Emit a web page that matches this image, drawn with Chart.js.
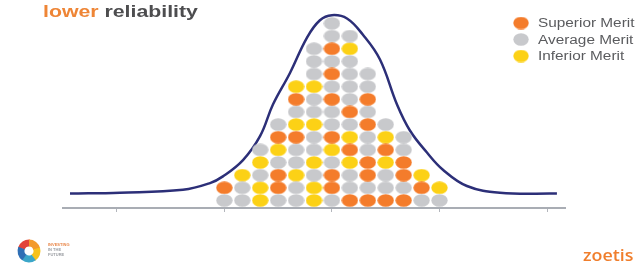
<!DOCTYPE html>
<html>
<head>
<meta charset="utf-8">
<script src="https://cdn.jsdelivr.net/npm/chart.js@4.4.1/dist/chart.umd.min.js"></script>
<style>
  body { margin: 0; background: #fff; }
  canvas { display: block; }
</style>
</head>
<body>
<canvas id="merit" width="642" height="267"></canvas>
<script>
// each column of dots, read from the bottom up
// O = superior, G = average, Y = inferior
const columns = [
  'GO',
  'GGY',
  'YYGYG',
  'GOOGYOG',
  'GGYGGOYGOY',
  'YYGYGGYGGYGGG',
  'GOOGYOGGOGOGOGG',
  'OGGYOYGOGGGGYG',
  'OGOOGGOGOGG',
  'OGGYOYG',
  'OGOOGG',
  'GOY',
  'GY'
];

const meritCodes = ['O', 'G', 'Y'];
const meritLabels = ['Superior Merit', 'Average Merit', 'Inferior Merit'];
const meritColors = ['#f47c2b', '#c8c9cc', '#fcd116'];

// bell curve (x in columns, y in rows)
const curveX = [-8.61, -5.82, -2.31, -0.8, -0.08, 1.04, 1.99, 2.71, 3.66, 4.61, 5.33, 6.0,
  6.84, 7.73, 8.68, 9.63, 10.35, 11.3, 12.19, 13.53, 15.37, 18.55];
const curveY = [0.54, 0.61, 0.84, 1.37, 1.9, 3.19, 5.08, 7.58, 10.08, 12.88, 14.25, 14.65,
  14.39, 13.1, 11.14, 7.58, 5.53, 3.79, 2.43, 1.14, 0.61, 0.54];

const axisTicks = [-6, 0, 6, 12, 18];

function meritPoints(code) {
  const pts = [];
  columns.forEach((col, i) => {
    [...col].forEach((c, level) => {
      if (c === code) pts.push({ x: i, y: level });
    });
  });
  return pts;
}

// slide was stretched sideways, so the dots are ellipses
function dot(color) {
  const c = document.createElement('canvas');
  c.width = 17;
  c.height = 13;
  const g = c.getContext('2d');
  g.fillStyle = color;
  g.beginPath();
  g.ellipse(8.5, 6.5, 8.2, 6.3, 0, 0, Math.PI * 2);
  g.fill();
  return c;
}

const dots = meritColors.map(dot);

const datasets = meritCodes.map((code, k) => ({
  label: meritLabels[k],
  data: meritPoints(code),
  pointStyle: dots[k],
  pointRadius: 8,
  pointHoverRadius: 8,
  backgroundColor: meritColors[k]
}));

datasets.push({
  label: 'curve',
  data: curveX.map((x, i) => ({ x: x, y: curveY[i] })),
  showLine: true,
  borderColor: '#2c2f78',
  borderWidth: 2.5,
  pointRadius: 0,
  tension: 0.4,
  clip: false
});

const slideBits = {
  id: 'slideBits',
  afterDraw(chart) {
    const ctx = chart.ctx;
    ctx.save();

    // title line
    ctx.save();
    ctx.translate(43, 17);
    ctx.scale(1.33, 1);
    ctx.font = 'bold 16px "Liberation Sans", Arial, sans-serif';
    ctx.textBaseline = 'alphabetic';
    ctx.fillStyle = '#ee8536';
    ctx.fillText('lower', 0, 0);
    const w = ctx.measureText('lower ').width;
    ctx.fillStyle = '#4d4d4f';
    ctx.fillText('reliability', w, 0);
    ctx.restore();

    // legend
    meritLabels.forEach((lab, k) => {
      const y = 23 + k * 16.5;
      ctx.drawImage(dots[k], 521 - 8, y - 6.5, 16, 13);
      ctx.save();
      ctx.translate(538, y + 1);
      ctx.scale(1.28, 1);
      ctx.font = '12px "Liberation Sans", Arial, sans-serif';
      ctx.textBaseline = 'middle';
      ctx.fillStyle = '#5a5b5e';
      ctx.fillText(lab, 0, 0);
      ctx.restore();
    });

    // logo bottom left
    const ring = ['#e2433a', '#f39a2b', '#f7c21c', '#3ba6c9', '#2f6fb5'];
    ring.forEach((col, k) => {
      ctx.beginPath();
      ctx.strokeStyle = col;
      ctx.lineWidth = 7;
      const a0 = -Math.PI * 0.9 + k * Math.PI * 0.4;
      ctx.arc(29, 251, 8, a0, a0 + Math.PI * 0.42);
      ctx.stroke();
    });
    ctx.font = 'bold 4px "Liberation Sans", Arial, sans-serif';
    ctx.fillStyle = '#e9874a';
    ctx.fillText('INVESTING', 48, 246);
    ctx.fillStyle = '#9b9ea3';
    ctx.fillText('IN THE', 48, 251);
    ctx.fillText('FUTURE', 48, 256);

    // zoetis
    ctx.save();
    ctx.translate(583, 261);
    ctx.scale(1.05, 1);
    ctx.font = '600 17px "Open Sans", "Liberation Sans", sans-serif';
    ctx.fillStyle = '#f07e2c';
    ctx.textBaseline = 'alphabetic';
    ctx.fillText('zoetis', 0, 0);
    ctx.restore();

    ctx.restore();
  }
};

new Chart(document.getElementById('merit'), {
  type: 'scatter',
  data: { datasets: datasets },
  options: {
    responsive: false,
    animation: false,
    devicePixelRatio: 1,
    layout: { padding: { left: 63, right: 77, top: 0, bottom: 55 } },
    plugins: {
      legend: { display: false },
      tooltip: { enabled: false }
    },
    scales: {
      x: {
        type: 'linear',
        min: -9,
        max: 19,
        afterBuildTicks: s => { s.ticks = axisTicks.map(v => ({ value: v })); },
        ticks: { display: false },
        grid: {
          display: true,
          drawOnChartArea: false,
          drawTicks: true,
          tickLength: 4,
          color: '#b3b6bc'
        },
        border: { display: true, color: '#a9adb4', width: 2 }
      },
      y: {
        type: 'linear',
        display: false,
        min: -0.6,
        max: 15.14
      }
    }
  },
  plugins: [slideBits]
});
</script>
</body>
</html>
